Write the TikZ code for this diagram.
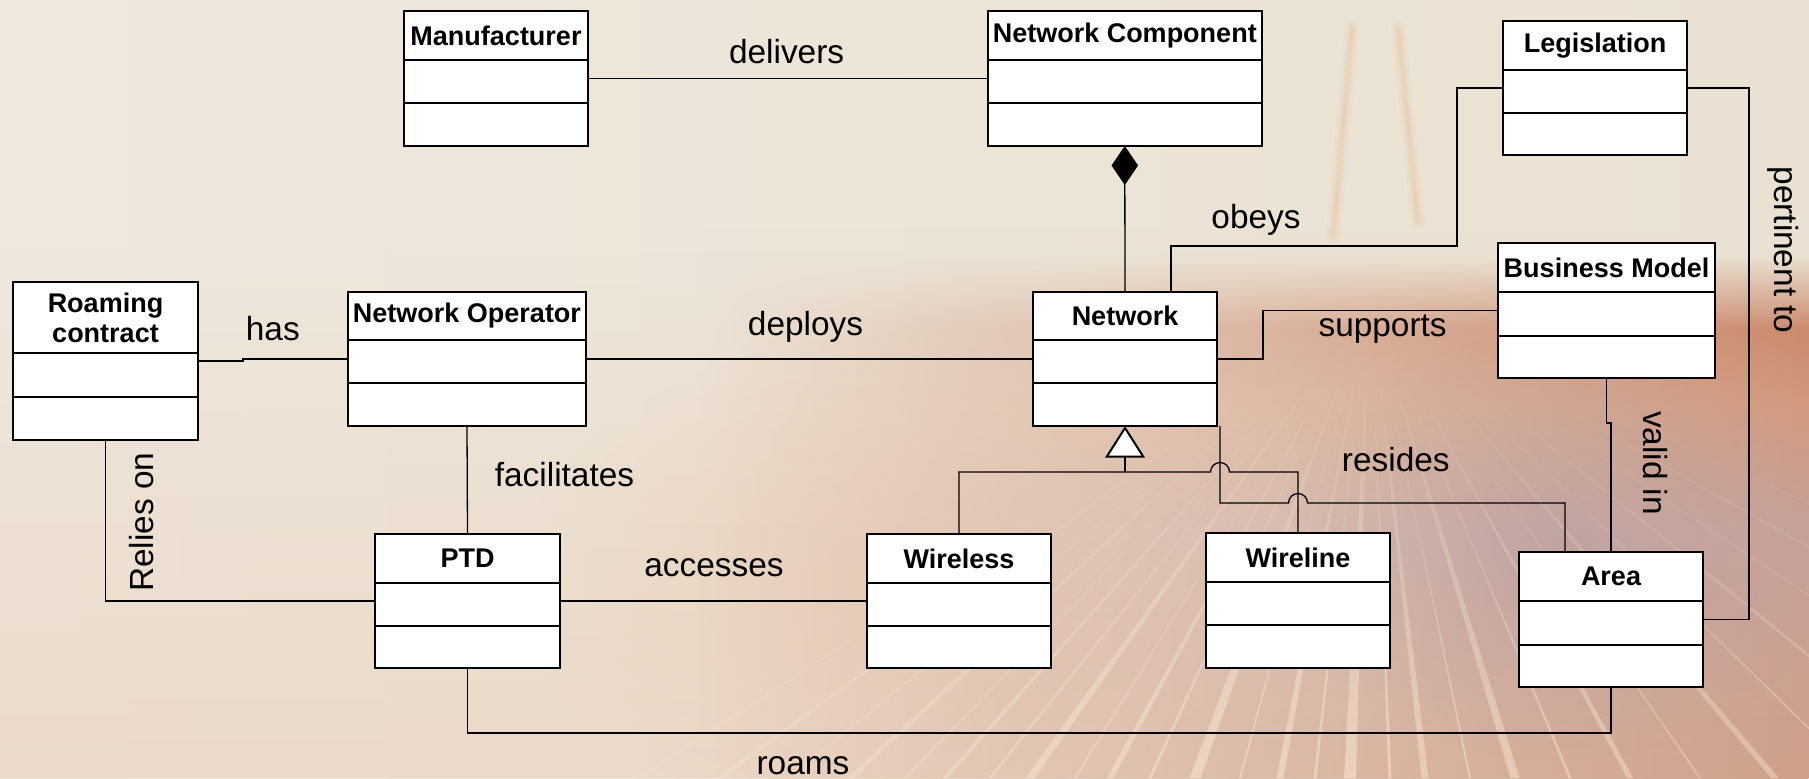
\documentclass[tikz,border=0pt]{standalone}
\usepackage{fontspec}
\setmainfont{Liberation Sans}
\usetikzlibrary{arrows.meta,fit,calc,fadings}

% backdrop palette
\definecolor{creamL}{HTML}{EFE8DD}
\definecolor{creamR}{HTML}{EAE1D2}
\definecolor{blush}{HTML}{EAD3C1}
\definecolor{peach}{HTML}{EDC8AE}
\definecolor{warmT}{HTML}{CB8A6D}
\definecolor{warmU}{HTML}{D29A7F}
\definecolor{warmM}{HTML}{C8A29A}
\definecolor{warmB}{HTML}{CFA089}
\definecolor{mauve}{HTML}{B59C9E}
\definecolor{streak}{HTML}{F8E9D3}
\definecolor{streakTop}{HTML}{E3B48C}

\pgfdeclareverticalshading{horizon}{100bp}{color(0bp)=(warmB); color(25bp)=(warmB); color(47.5bp)=(warmM); color(58.9bp)=(warmU); color(66bp)=(warmT); color(72.6bp)=(creamR); color(100bp)=(creamR)}

\tikzfading[name=warmfade, left color=transparent!100, middle color=transparent!30, right color=transparent!0]
\tikzfading[name=blushfade, top color=transparent!100, bottom color=transparent!35]
\tikzfading[name=streakfade, top color=transparent!100, middle color=transparent!35, bottom color=transparent!0]
\tikzfading[name=softblob, inner color=transparent!0, outer color=transparent!100]

\tikzset{
  classframe/.style={draw, fill=white, line width=1pt, inner sep=0pt, outer sep=0pt},
  classline/.style={line width=1pt},
  classtitle/.style={font=\bfseries\fontsize{13.5pt}{15pt}\selectfont, align=center, inner sep=0pt},
  conn/.style={line width=0.65pt},
  lbl/.style={font=\fontsize{16.7pt}{19pt}\selectfont, inner sep=0pt},
  composite/.style={{Diamond[length=19.5pt, width=13.3pt]}-},
  generalize/.style={{Triangle[length=15.8pt, width=19.8pt, fill=white, line width=1pt]}-},
}

% UML class box: name, left, top, right, bottom, first divider, second divider, title
\newcommand\umlclass[8]{%
  \coordinate (#1-nw) at (#2,#3);
  \coordinate (#1-se) at (#4,#5);
  \node[classframe, fit=(#1-nw)(#1-se)] (#1) {};
  \draw[classline] (#2,#6) -- (#4,#6) (#2,#7) -- (#4,#7);
  \node[classtitle] (#1-title) at ($(#2,#3)!0.5!(#4,#6)$) {#8};
}

\begin{document}
\begin{tikzpicture}[x=0.5pt, y=-0.5pt]
\useasboundingbox (0,0) rectangle (1809,778);

% ---- photographic backdrop: light trails under a warm horizon ----
\shade[left color=creamL, right color=creamR] (0,0) rectangle (1809,778);
\fill[blush, path fading=blushfade] (0,250) rectangle (1809,778);
\fill[peach, opacity=0.55, path fading=softblob] (520,330) rectangle (1320,830);
\shade[shading=horizon, path fading=warmfade] (700,230) rectangle (1809,778);
\fill[mauve, opacity=0.55, path fading=softblob] (1280,330) rectangle (1840,760);

% faint vertical trails near the top
\foreach \w/\o in {14/0.1, 8/0.13, 3/0.16}{
  \draw[streakTop, line width=\w*0.5pt, opacity=\o, line cap=round] (1352,28) -- (1333,236);
  \draw[streakTop, line width=\w*0.5pt, opacity=\o, line cap=round] (1398,28) -- (1418,222);
}

% fan of light trails
\coordinate (vp) at (1370,300);
\foreach \bx/\w/\o in {640/4/0.2, 720/6/0.3, 790/3/0.3, 850/8/0.35, 905/2/0.4, 945/5/0.45,
  990/3/0.45, 1030/9/0.5, 1075/2/0.45, 1110/6/0.5, 1150/3/0.5, 1195/11/0.55, 1240/2/0.5,
  1280/7/0.55, 1315/3/0.5, 1350/12/0.55, 1390/3/0.55, 1425/7/0.5, 1470/2/0.5, 1515/9/0.5,
  1570/3/0.45, 1630/6/0.45, 1700/2/0.4, 1775/8/0.4, 1860/3/0.4, 1960/6/0.35, 2080/3/0.35,
  2220/7/0.3, 2400/4/0.3}{
  \fill[streak, opacity=\o, path fading=streakfade]
    ($(vp)!0.05!(\bx,778)$) -- (\bx-\w/2,778) -- (\bx+\w/2,778) -- cycle;
}

% ---- classes ----
\umlclass{Manufacturer}{404}{11}{588}{146}{60}{103}{Manufacturer}
\umlclass{NC}{987.5}{11}{1262}{146}{60}{103}{Network Component}
\umlclass{Legislation}{1503}{21}{1687}{155}{70}{113}{Legislation}
\umlclass{Roaming}{13}{282}{198}{440}{353}{397}{Roaming\\contract}
\umlclass{NO}{348}{292}{586}{426}{340}{383}{Network Operator}
\umlclass{Network}{1033}{292}{1217}{426}{340}{383}{Network}
\umlclass{BM}{1498}{243}{1715}{378}{292}{336}{Business Model}
\umlclass{PTD}{375}{534}{560}{668}{583}{626}{PTD}
\umlclass{Wireless}{867}{534}{1051}{668}{583}{626}{Wireless}
\umlclass{Wireline}{1206}{533}{1390}{668}{582}{625}{Wireline}
\umlclass{Area}{1519}{552}{1703}{687}{601}{645}{Area}

% ---- bend points ----
\coordinate (obeysA) at (1171,246);
\coordinate (obeysB) at (1457,246);
\coordinate (pertX) at (1749,0);
\coordinate (suppX) at (1263,0);
\coordinate (validY) at (0,423);
\coordinate (hasX) at (243,0);
\coordinate (roamY) at (0,733);
\coordinate (genY) at (0,472);
\coordinate (resTop) at ($(Network.south east)+(3,0)$);
\coordinate (resY) at (0,503);
\coordinate (resX) at (1565,0);

% ---- associations ----
\draw[conn] (Manufacturer.east) -- (NC.west);
\draw[conn, composite] (NC.south) -- (Network.north);
\draw[conn] (Network.north -| obeysA) -- (obeysA) -- (obeysB) |- (Legislation.west);
\draw[conn] (Legislation.east) -- (Legislation.east -| pertX) -- (Area.east -| pertX) -- (Area.east);
\draw[conn] (Network.east) -- (Network.east -| suppX) -- (BM.west -| suppX) -- (BM.west);
\draw[conn] (BM.south) -- (BM.south |- validY) -- (Area.north |- validY) -- (Area.north);
\draw[conn] (Roaming.east) -- (Roaming.east -| hasX) -- (NO.west -| hasX) -- (NO.west);
\draw[conn] (NO.east) -- (Network.west);
\draw[conn] (NO.south) -- (PTD.north);
\draw[conn] (Roaming.south) |- (PTD.west);
\draw[conn] (PTD.east) -- (Wireless.west);
\draw[conn] (PTD.south) -- (PTD.south |- roamY) -- (Area.south |- roamY) -- (Area.south);

% generalisation tree, hopping over the "resides" line
\draw[conn, generalize] (Network.south) -- (Network.south |- genY);
\draw[conn] (Wireless.north) -- (Wireless.north |- genY)
  -- ($(resTop |- genY)+(-9.5,0)$) arc[start angle=180, end angle=0, radius=4.75pt]
  -- (Wireline.north |- genY) -- (Wireline.north);

% "resides", hopping over the Wireline branch
\draw[conn] (resTop) -- (resTop |- resY)
  -- ($(Wireline.north |- resY)+(-9.5,0)$) arc[start angle=180, end angle=0, radius=4.75pt]
  -- (resX |- resY) -- (Area.north -| resX);

% ---- association names ----
\node[lbl] (t-delivers) at (786.6,51.5) {delivers};
\node[lbl] (t-has) at (272.8,328.3) {has};
\node[lbl] (t-deploys) at (805.5,327) {deploys};
\node[lbl] (t-obeys) at (1256,220) {obeys};
\node[lbl] (t-supports) at (1382.6,329.5) {supports};
\node[lbl] (t-facilitates) at (564.5,475) {facilitates};
\node[lbl] (t-accesses) at (714,567.8) {accesses};
\node[lbl] (t-resides) at (1395.8,459.4) {resides};
\node[lbl] (t-roams) at (803,765.5) {roams};
\node[lbl, rotate=90] (t-relies) at (141.8,522.3) {Relies on};
\node[lbl, rotate=-90] (t-valid) at (1655,463) {valid in};
\node[lbl, rotate=-90] (t-pertinent) at (1783,250) {pertinent to};
\end{tikzpicture}
\end{document}
